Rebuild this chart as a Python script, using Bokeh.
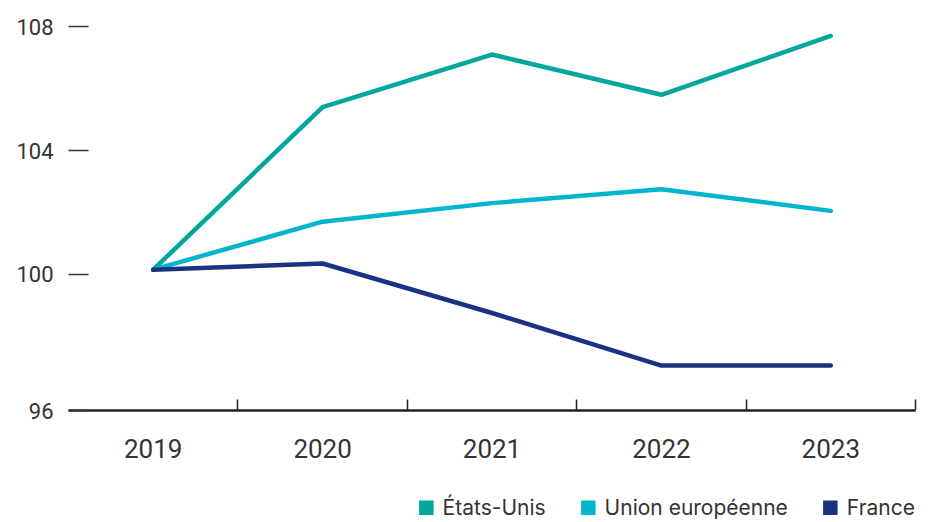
from bokeh.plotting import figure
from bokeh.layouts import column
from bokeh.models import FixedTicker, Range1d, Legend, LegendItem
from bokeh.embed import file_html
from bokeh.resources import INLINE

years = [2019, 2020, 2021, 2022, 2023]
etats_unis = [100.15, 105.4, 107.1, 105.8, 107.7]
union_europeenne = [100.15, 101.7, 102.3, 102.75, 102.05]
france = [100.15, 100.35, 98.75, 97.05, 97.05]
y_ticks = [95.6, 100, 104, 108]
y_tick_labels = ["96", "100", "104", "108"]
series_names = ["États-Unis", "Union européenne", "France"]
colors = ["#00a79d", "#00b5cc", "#1b3282"]

FONT = "Roboto"
LEGEND_FONT = "Inter"
TXT = "#333333"
W = 924

p = figure(width=W, height=466,
           x_range=Range1d(2018.5, 2023.5), y_range=Range1d(95.6, 108.2),
           output_backend="svg", toolbar_location=None,
           min_border_left=68, min_border_right=W - 915,
           min_border_top=20, min_border_bottom=56)
p.outline_line_color = None
p.xgrid.visible = False
p.ygrid.visible = False

all_series = [etats_unis, union_europeenne, france]
for vals, col in zip(all_series, colors):
    p.line(years, vals, line_color=col, line_width=4.5, line_cap="round", line_join="round")

# x axis
xa = p.xaxis[0]
xa.ticker = FixedTicker(ticks=years, minor_ticks=[y + 0.5 for y in years])
xa.axis_line_color = "#222222"
xa.axis_line_width = 2.5
xa.major_tick_line_color = None
xa.minor_tick_in = 11
xa.minor_tick_out = 0
xa.minor_tick_line_color = "#222222"
xa.minor_tick_line_width = 1.5
xa.major_label_text_font = FONT
xa.major_label_text_font_size = "26px"
xa.major_label_text_color = TXT
xa.major_label_standoff = 22

# y axis
ya = p.yaxis[0]
ya.ticker = FixedTicker(ticks=y_ticks)
ya.major_label_overrides = {t: l for t, l in zip(y_ticks, y_tick_labels)}
ya.axis_line_color = None
ya.major_tick_in = 20
ya.major_tick_out = 0
ya.major_tick_line_color = "#333333"
ya.major_tick_line_width = 1.5
ya.minor_tick_line_color = None
ya.major_label_text_font = FONT
ya.major_label_text_font_size = "22px"
ya.major_label_text_color = TXT
ya.major_label_standoff = 15

# legend strip below the chart
pl = figure(width=W, height=54, output_backend="svg", toolbar_location=None,
            x_axis_type=None, y_axis_type=None,
            min_border_left=0, min_border_right=0, min_border_top=0, min_border_bottom=0)
pl.outline_line_color = None
pl.xgrid.visible = False
pl.ygrid.visible = False
legend_items = []
for name, vals, col in zip(series_names, all_series, colors):
    r = pl.line(years, vals, line_color=col, line_width=15, line_cap="butt", visible=False)
    legend_items.append(LegendItem(label=name, renderers=[r]))

legend = Legend(items=legend_items, orientation="horizontal",
                location="bottom_right", padding=0, margin=0,
                border_line_color=None, background_fill_alpha=0,
                glyph_width=15, glyph_height=15, label_height=20,
                label_standoff=9, spacing=35,
                label_text_font=LEGEND_FONT, label_text_font_size="21px",
                label_text_color=TXT)
pl.add_layout(legend)

layout = column(p, pl, spacing=0)
open("out.html", "w").write(file_html(layout, INLINE))
